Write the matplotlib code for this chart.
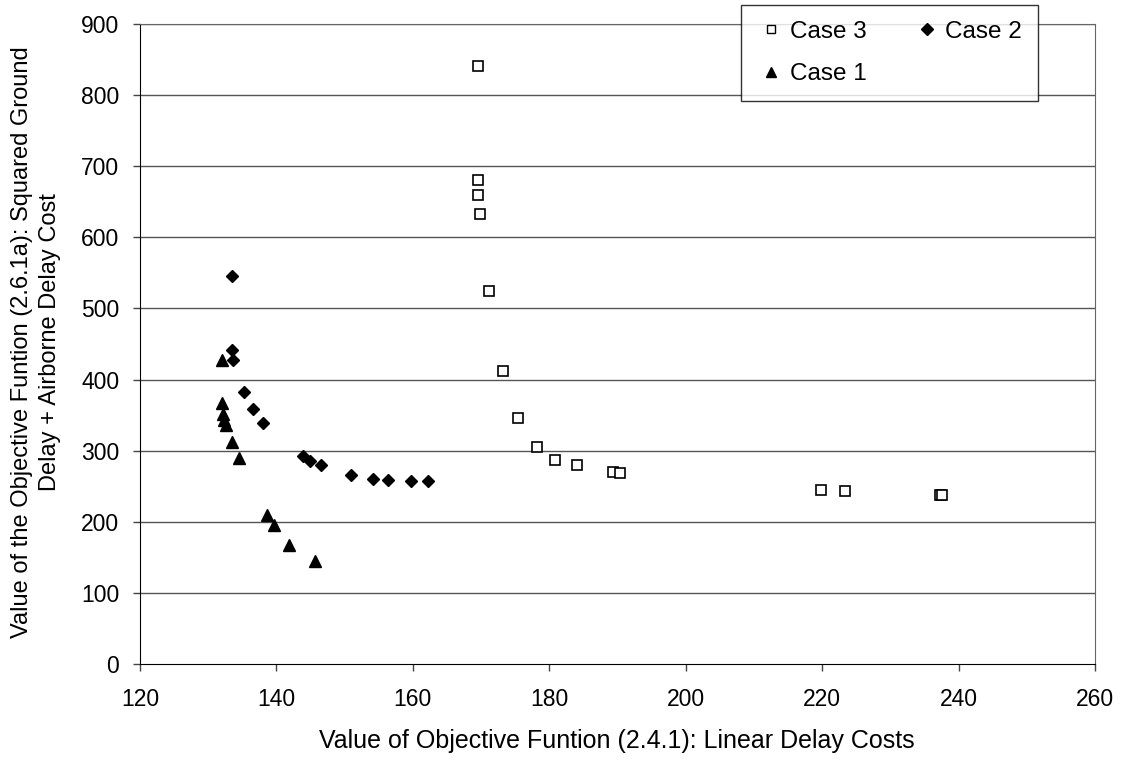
import matplotlib
matplotlib.use("Agg")
import matplotlib.pyplot as plt
from matplotlib.lines import Line2D

plt.rcParams['font.family'] = ['Liberation Sans', 'DejaVu Sans']

case3_x = [169.5, 169.5, 169.6, 169.8, 171.1, 173.2, 175.4, 178.2, 180.8, 184.0, 189.3, 190.4, 219.9, 223.4, 237.3, 237.6]
case3_y = [841, 681, 660, 633, 524, 412, 345.5, 305, 287, 280, 270, 269, 245, 243, 237, 237]

case2_x = [133.5, 133.5, 133.7, 135.2, 136.6, 138.1, 143.9, 144.9, 146.5, 150.9, 154.1, 156.3, 159.8, 162.2]
case2_y = [545.7, 442, 428, 382, 359, 339.5, 292.5, 286, 279.5, 266, 260, 259, 258, 258]

case1_x = [132.0, 132.0, 132.2, 132.3, 132.6, 133.5, 134.5, 138.6, 139.6, 141.9, 145.7]
case1_y = [427, 367, 351, 343, 336, 312, 290, 210, 195, 167, 145]

xticks = [120, 140, 160, 180, 200, 220, 240, 260]
yticks = [0, 100, 200, 300, 400, 500, 600, 700, 800, 900]

fig = plt.figure(figsize=(11.29, 7.61), dpi=100)
ax = fig.add_axes([140/1129, 1-664/761, (1095-140)/1129, (664-24)/761])

for y in yticks[1:]:
    ax.axhline(y, color='#555555', lw=1.0, zorder=0)

ax.plot(case3_x, case3_y, ls='none', marker='s', ms=7, mfc='white', mec='black', mew=1.2, zorder=3)
ax.plot(case2_x, case2_y, ls='none', marker='D', ms=6.5, mfc='black', mec='black', zorder=3)
ax.plot(case1_x, case1_y, ls='none', marker='^', ms=8, mfc='black', mec='black', zorder=3)

ax.set_xlim(120, 260)
ax.set_ylim(0, 900)
ax.set_xticks(xticks)
ax.set_yticks(yticks)
ax.tick_params(axis='both', labelsize=16.5, length=5, width=1, color='#444444', direction='out')
ax.tick_params(axis='y', pad=10)
ax.tick_params(axis='x', pad=12)
for s in ['left', 'bottom']:
    ax.spines[s].set_color('black')
for s in ['top', 'right']:
    ax.spines[s].set_color('#666666')

fig.text(617/1129, 1-741/761, 'Value of Objective Funtion (2.4.1): Linear Delay Costs',
         fontsize=18, ha='center', va='center')
fig.text(36/1129, 1-342/761, 'Value of the Objective Funtion (2.6.1a): Squared Ground\nDelay + Airborne Delay Cost',
         fontsize=17, ha='center', va='center', rotation=90, multialignment='center',
         linespacing=1.4)

handles = [
    Line2D([], [], ls='none', marker='s', ms=6, mfc='white', mec='black', mew=1.0),
    Line2D([], [], ls='none', marker='^', ms=7, mfc='black', mec='black'),
    Line2D([], [], ls='none', marker='D', ms=6, mfc='black', mec='black'),
]
labels = ['Case 3', 'Case 1', 'Case 2']
leg = fig.legend(handles, labels, ncol=2, loc='upper left',
                 bbox_to_anchor=(741/1129, 1-5/761), fontsize=17.5,
                 frameon=True, fancybox=False, edgecolor='black',
                 handlelength=1.2, handletextpad=0.15, columnspacing=1.9,
                 labelspacing=0.85, borderpad=0.65, borderaxespad=0)
leg.get_frame().set_linewidth(1.0)

fig.savefig('out.png', dpi=100)
